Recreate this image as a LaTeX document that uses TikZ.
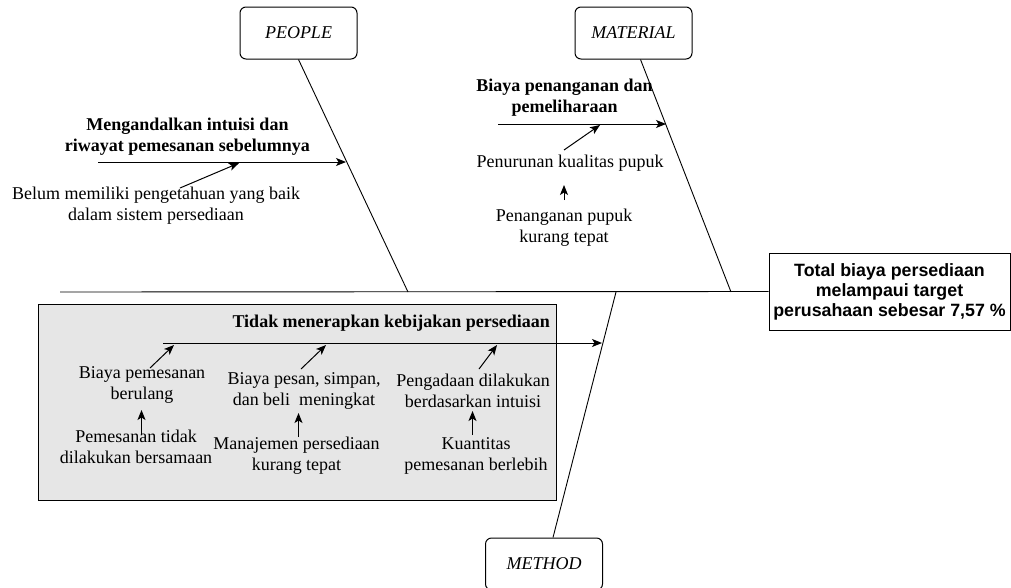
\documentclass[tikz,border=0pt]{standalone}
\usepackage{fontspec}
\setmainfont{Liberation Serif}
\newfontfamily\effectfont{Liberation Sans}
\usetikzlibrary{arrows.meta}
\definecolor{boxgray}{RGB}{230,230,230}
\begin{document}
\begin{tikzpicture}[x=1pt,y=-1pt,
  txt/.style={font=\fontsize{18}{21}\selectfont, align=center, inner sep=0pt},
  btxt/.style={font=\fontsize{18}{21}\selectfont\bfseries, align=center, inner sep=0pt},
  catbox/.style={draw, rounded corners=6pt, minimum width=117pt, minimum height=52pt,
     font=\fontsize{18}{21}\selectfont\itshape, line width=1pt, fill=white},
  effectbox/.style={draw, line width=1pt, minimum width=241pt, minimum height=77pt, align=center,
     inner sep=0pt, font=\effectfont\fontsize{17.8}{20}\selectfont\bfseries},
  groupbox/.style={draw, line width=1pt, fill=boxgray, minimum width=518pt, minimum height=196pt, inner sep=0pt},
  bone/.style={line width=0.9pt},
  arr/.style={line width=1pt, -{Stealth[length=10pt,width=8pt,inset=2.5pt]}},
]
\useasboundingbox (0,0) rectangle (1011,587);
\clip (0,0) rectangle (1011,587);

% group box
\node[groupbox] (grp) at (297,402) {};

% category boxes and effect
\node[catbox] (people) at (298.5,33) {PEOPLE};
\node[catbox] (material) at (633.5,33) {MATERIAL};
\node[catbox] (method) at (544,564) {METHOD};
\node[effectbox] (effect) at (889.5,291.5) {Total biaya persediaan\\melampaui target\\perusahaan sebesar 7,57 \%};

% spine and bones
\coordinate (spineL) at (60,292);
\coordinate (pJ) at (408,292);
\coordinate (mJ) at (731,292);
\coordinate (tJ) at (616,292);
\draw[bone] (spineL) -- (effect.west);
\draw[bone] (people.south) -- (pJ);
\draw[bone] ([xshift=7pt]material.south) -- (mJ);
\draw[bone] ([xshift=9pt]method.north) -- (tJ);

% PEOPLE
\node[btxt] (pc) at (187.5,137) {Mengandalkan intuisi dan\\riwayat pemesanan sebelumnya};
\node[txt] (ps) at (156,205.5) {Belum memiliki pengetahuan yang baik\\dalam sistem persediaan};
\coordinate (pA0) at (98,162);
\coordinate (pA1) at (346,162);
\coordinate (pS0) at (180,188);
\coordinate (pS1) at (239,163);
\draw[arr] (pA0) -- (pA1);
\draw[arr] (pS0) -- (pS1);

% MATERIAL
\node[btxt] (mc) at (564.5,98) {Biaya penanganan dan\\pemeliharaan};
\node[txt] (ms1) at (570,163) {Penurunan kualitas pupuk};
\node[txt] (ms2) at (564,228) {Penanganan pupuk\\kurang tepat};
\coordinate (mA0) at (498,124);
\coordinate (mA1) at (666,124);
\coordinate (mS0) at (564,150);
\coordinate (mS1) at (600,125);
\coordinate (mU0) at (564,200);
\coordinate (mU1) at (564,185);
\draw[arr] (mA0) -- (mA1);
\draw[arr] (mS0) -- (mS1);
\draw[arr] (mU0) -- (mU1);

% METHOD
\node[btxt, anchor=east] (tc) at (550,323) {Tidak menerapkan kebijakan persediaan};
\node[txt] (t1) at (142,385) {Biaya pemesanan\\berulang};
\node[txt] (t2) at (304,390.5) {Biaya pesan, simpan,\\dan beli\ \ meningkat};
\node[txt] (t3) at (473,390.5) {Pengadaan dilakukan\\berdasarkan intuisi};
\node[txt] (t4) at (136,447) {Pemesanan tidak\\dilakukan bersamaan};
\node[txt] (t5) at (296.5,455.5) {Manajemen persediaan\\kurang tepat};
\node[txt] (t6) at (476,455.5) {Kuantitas\\pemesanan berlebih};
\coordinate (tA0) at (163,343);
\coordinate (tA1) at (602,343);
\draw[arr] (tA0) -- (tA1);
\coordinate (s1a) at (150,368); \coordinate (s1b) at (174,345);
\coordinate (s2a) at (301,369); \coordinate (s2b) at (326,345);
\coordinate (s3a) at (479,369); \coordinate (s3b) at (497,345);
\draw[arr] (s1a) -- (s1b);
\draw[arr] (s2a) -- (s2b);
\draw[arr] (s3a) -- (s3b);
\coordinate (u1a) at (141.5,435); \coordinate (u1b) at (141.5,410);
\coordinate (u2a) at (298.5,437); \coordinate (u2b) at (298.5,413);
\coordinate (u3a) at (472.5,435); \coordinate (u3b) at (472.5,411);
\draw[arr] (u1a) -- (u1b);
\draw[arr] (u2a) -- (u2b);
\draw[arr] (u3a) -- (u3b);
\end{tikzpicture}
\end{document}
